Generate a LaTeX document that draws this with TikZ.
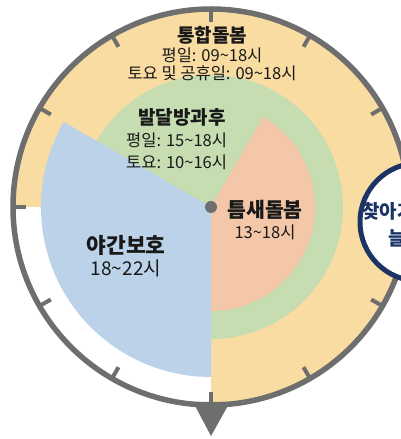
\documentclass[tikz,border=0pt]{standalone}
\usepackage{fontspec}
\setmainfont{Noto Sans CJK KR}
\usepackage{tikz}
\usetikzlibrary{calc}
\usetikzlibrary{positioning}
\definecolor{careorange}{HTML}{F9DCA2}
\definecolor{caregreen}{HTML}{C5DDB1}
\definecolor{carepink}{HTML}{F3C7A7}
\definecolor{careblue}{HTML}{BBD2E8}
\definecolor{rimgray}{HTML}{6E6E6E}
\definecolor{lensnavy}{HTML}{1C3464}
\newcommand{\clocksector}[4] {
\fill[#1] (c) -- ++(#2:#4) arc[start angle=#2, end angle=#3, radius=#4] -- cycle;
}
\tikzset{
  title/.style={font=\bfseries\fontsize{19}{21}\selectfont, text=black!90, inner sep=0pt},
  hours/.style={font=\fontsize{16.5}{19}\selectfont, text=black!90, inner sep=0pt},
}

\begin{document}
\begin{tikzpicture}[x=1pt, y=1pt]
      \useasboundingbox (0,0) rectangle (401,439);
      \clip (0,0) rectangle (401,439);
      \coordinate (c) at (211,232);
      \clocksector{careorange}{-90}{180}{198}
      \fill[caregreen] (c) circle[radius=132];
      \clocksector{careblue}{150}{270}{170}
      \clocksector{carepink}{-90}{60}{104}
      % clock rim and ticks
      \draw[rimgray, line width=5.5pt] (c) circle[radius=198];
      \foreach \a in {0,30,...,330}
        \draw[rimgray, line width=4pt] ($(c)+(\a:200)$) -- ($(c)+(\a:185)$);
      \fill[rimgray] (193,37) -- (230,37) -- (211,3) -- cycle;
      \fill[rimgray] (c) circle[radius=6];
      % lens on the right
      \draw[lensnavy, line width=5pt, fill=white] (419,217) circle[radius=59];
      \node[title, text=lensnavy, anchor=west, font=\bfseries\fontsize{19}{21}\selectfont] (lensa) at (362,228) {찾아가는};
      \node[title, text=lensnavy, anchor=west, font=\bfseries\fontsize{19}{21}\selectfont] (lensb) at (388,201) {늘봄};
      % labels
      \node[title] (tonghap) at (212,404) {통합돌봄};
      \node[hours, below=3pt of tonghap] (tonghapa) {평일: 09\textasciitilde18시};
      \node[hours, below=3.5pt of tonghapa] (tonghapb) {토요 및 공휴일: 09\textasciitilde18시};
      \node[title] (baldal) at (182,322) {발달방과후};
      \node[hours, anchor=west] (baldala) at (126,299) {평일: 15\textasciitilde18시};
      \node[hours, anchor=west] (baldalb) at (126,277) {토요: 10\textasciitilde16시};
      \node[title, font=\bfseries\fontsize{20.5}{23}\selectfont] (teumsae) at (265,229) {틈새돌봄};
      \node[hours, below=4.5pt of teumsae] (teumsaea) {13\textasciitilde18시};
      \node[title, font=\bfseries\fontsize{21.5}{24}\selectfont] (yagan) at (126,194) {야간보호};
      \node[hours, font=\fontsize{19}{21}\selectfont, below=4.4pt of yagan] (yagana) {18\textasciitilde22시};
\end{tikzpicture}
\end{document}
